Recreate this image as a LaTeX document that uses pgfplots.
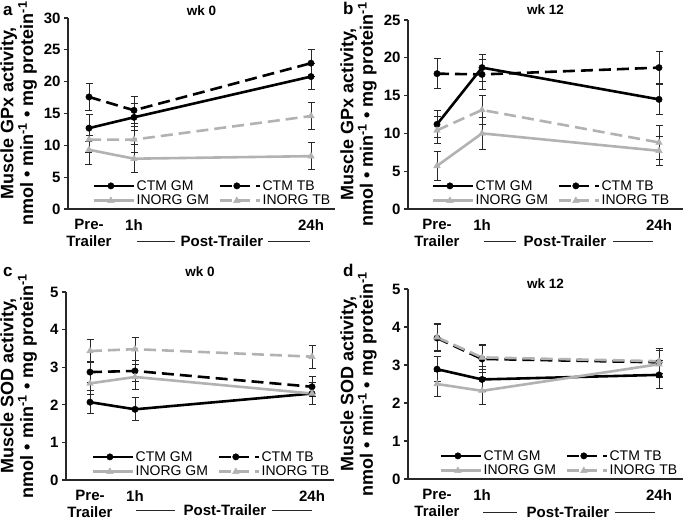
\documentclass[border=0pt]{standalone}
\usepackage{pgfplots}
\pgfplotsset{compat=1.18}
\usepackage{fontspec}
\setmainfont{Liberation Sans}
\definecolor{lgray}{RGB}{178,178,178}
\definecolor{axc}{RGB}{40,40,40}

\pgfplotsset{
  panel/.style={
    scale only axis, clip=false,
    axis x line*=bottom, axis y line*=left,
    axis line style={axc, line width=1.1pt},
    xtick={0,45,222}, xticklabels={Pre-\\Trailer,1h,24h},
    xticklabel style={align=center, anchor=north, font=\fontsize{15}{17}\selectfont\bfseries, yshift=-3pt},
    major x tick style={draw=none},
    major y tick style={axc, line width=1.1pt},
    tick align=outside, major tick length=4pt,
    yticklabel style={font=\fontsize{15}{16}\selectfont\bfseries},
    /pgf/number format/assume math mode=true,
    title style={at={(axis description cs:0.5,1)}, anchor=center, font=\fontsize{13.5}{15}\selectfont\bfseries},
    legend columns=2,
    legend cell align=left,
    legend style={draw=none, fill=none, font=\fontsize{14}{15}\selectfont, inner sep=0pt, row sep=0.5pt,
      nodes={inner sep=1.5pt},
      at={(rel axis cs:1,0)}, anchor=south east, xshift=-3pt, yshift=1pt,
      /tikz/every even column/.append style={column sep=8pt}},
    legend image code/.code={\draw[mark repeat=2,mark phase=2,#1] plot coordinates {(0pt,0pt) (17pt,0pt) (40pt,0pt)};},
  },
  ylab/.style={ylabel style={at={(axis description cs:#1,0.5)}, anchor=center, align=center, font=\fontsize{18}{18.5}\selectfont\bfseries}},
  errb/.style={error bars/.cd, y dir=both, y explicit,
    error bar style={axc, line width=1pt, solid},
    error mark options={rotate=90, mark size=3.5pt, axc, line width=1pt, solid}},
  ctmgm/.style={black, line width=2.6pt, solid, mark=*, mark size=3.2pt, mark options={solid, fill=black, line width=0.4pt}, errb},
  ctmtb/.style={black, line width=2.6pt, dash pattern=on 12pt off 6pt, mark=*, mark size=3.2pt, mark options={solid, fill=black, line width=0.4pt}, errb},
  inorggm/.style={lgray, line width=2.6pt, solid, mark=triangle*, mark size=3.8pt, mark options={solid, fill=lgray, line width=0.4pt}, errb},
  inorgtb/.style={lgray, line width=2.6pt, dash pattern=on 12pt off 6pt, mark=triangle*, mark size=3.8pt, mark options={solid, fill=lgray, line width=0.4pt}, errb},
}

\newcommand{\ylabtext}[1]{Muscle #1 activity,\\nmol \textbullet{} min\textsuperscript{-1} \textbullet{} mg protein\textsuperscript{-1}}

\newcommand{\posttrailer}[6]{%
  \node[font=\fontsize{15}{16}\selectfont\bfseries] at ([yshift=-#6]axis cs:#1,0) {Post-Trailer};
  \draw[axc, line width=0.8pt] ([yshift=-#6]axis cs:#2,0) -- ([yshift=-#6]axis cs:#3,0);
  \draw[axc, line width=0.8pt] ([yshift=-#6]axis cs:#4,0) -- ([yshift=-#6]axis cs:#5,0);
}

\begin{document}
\begin{tikzpicture}[x=1pt,y=1pt]
\path[use as bounding box] (0,0) rectangle (685,524);

\node[anchor=base west, font=\fontsize{17}{18}\selectfont\bfseries, inner sep=0pt] at (3,508) {a};
\node[anchor=base west, font=\fontsize{17}{18}\selectfont\bfseries, inner sep=0pt] at (343,509) {b};
\node[anchor=base west, font=\fontsize{17}{18}\selectfont\bfseries, inner sep=0pt] at (3,247) {c};
\node[anchor=base west, font=\fontsize{17}{18}\selectfont\bfseries, inner sep=0pt] at (343,247) {d};

% panel a
\begin{axis}[panel, ylab=-0.185, at={(68pt,315pt)}, anchor=south west, width=267pt, height=191pt,
  xmin=-21, xmax=246, ymin=0, ymax=30, ytick={0,5,...,30},
  title={wk 0}, title style={yshift=1pt},
  ylabel={\ylabtext{GPx}}]
\addplot[ctmgm] coordinates {(0,12.7) +- (0,2.1) (45,14.4) +- (0,2.1) (222,20.8) +- (0,2.1)};
\addplot[ctmtb] coordinates {(0,17.6) +- (0,2.1) (45,15.5) +- (0,2.1) (222,22.9) +- (0,2.1)};
\addplot[inorggm] coordinates {(0,9.3) +- (0,2.3) (45,7.9) +- (0,2.2) (222,8.3) +- (0,2.1)};
\addplot[inorgtb] coordinates {(0,10.9) +- (0,2.0) (45,10.9) +- (0,2.0) (222,14.6) +- (0,2.1)};
\legend{CTM GM, CTM TB, INORG GM, INORG TB}
\posttrailer{133}{48}{86}{179}{221}{32pt}
\end{axis}

% panel b
\begin{axis}[panel, ylab=-0.18, at={(408pt,315pt)}, anchor=south west, width=275pt, height=189pt,
  xmin=-29, xmax=246, ymin=0, ymax=25, ytick={0,5,...,25},
  title={wk 12}, title style={yshift=4pt},
  legend style={xshift=-9pt},
  ylabel={\ylabtext{GPx}}]
\addplot[ctmgm] coordinates {(0,11.2) +- (0,1.8) (45,18.7) +- (0,1.8) (222,14.5) +- (0,2.0)};
\addplot[ctmtb] coordinates {(0,17.9) +- (0,2.0) (45,17.8) +- (0,2.0) (222,18.7) +- (0,2.1)};
\addplot[inorggm] coordinates {(0,5.7) +- (0,1.9) (45,10.0) +- (0,2.1) (222,7.7) +- (0,1.9)};
\addplot[inorgtb] coordinates {(0,10.4) +- (0,1.8) (45,13.1) +- (0,1.9) (222,8.8) +- (0,2.2)};
\legend{CTM GM, CTM TB, INORG GM, INORG TB}
\posttrailer{128}{47}{79}{176}{216}{32pt}
\end{axis}

% panel c
\begin{axis}[panel, ylab=-0.177, at={(66pt,44pt)}, anchor=south west, width=268pt, height=188pt,
  xmin=-24, xmax=244, ymin=0, ymax=5, ytick={0,1,...,5},
  title={wk 0}, title style={yshift=14pt},
  legend style={xshift=0pt},
  ylabel={\ylabtext{SOD}}]
\addplot[ctmgm] coordinates {(0,2.07) +- (0,0.31) (45,1.88) +- (0,0.31) (222,2.30) +- (0,0.30)};
\addplot[ctmtb] coordinates {(0,2.87) +- (0,0.28) (45,2.90) +- (0,0.28) (222,2.48) +- (0,0.27)};
\addplot[inorggm] coordinates {(0,2.57) +- (0,0.30) (45,2.74) +- (0,0.33) (222,2.30) +- (0,0.30)};
\addplot[inorgtb] coordinates {(0,3.43) +- (0,0.30) (45,3.48) +- (0,0.30) (222,3.28) +- (0,0.31)};
\legend{CTM GM, CTM TB, INORG GM, INORG TB}
\posttrailer{135}{46}{85}{182}{222}{30pt}
\end{axis}

% panel d
\begin{axis}[panel, ylab=-0.18, at={(408pt,45pt)}, anchor=south west, width=275pt, height=190pt,
  xmin=-29, xmax=246, ymin=0, ymax=5, ytick={0,1,...,5},
  title={wk 12}, title style={yshift=-1pt},
  legend style={xshift=-1pt},
  ylabel={\ylabtext{SOD}}]
\addplot[ctmgm] coordinates {(0,2.89) +- (0,0.33) (45,2.62) +- (0,0.33) (222,2.74) +- (0,0.37)};
\addplot[ctmtb] coordinates {(0,3.71) +- (0,0.35) (45,3.16) +- (0,0.35) (222,3.07) +- (0,0.36)};
\addplot[inorggm] coordinates {(0,2.50) +- (0,0.33) (45,2.32) +- (0,0.35) (222,3.02) +- (0,0.36)};
\addplot[inorgtb] coordinates {(0,3.73) +- (0,0.35) (45,3.20) +- (0,0.33) (222,3.10) +- (0,0.33)};
\legend{CTM GM, CTM TB, INORG GM, INORG TB}
\posttrailer{131}{46}{80}{178}{218}{33pt}
\end{axis}
\end{tikzpicture}
\end{document}
